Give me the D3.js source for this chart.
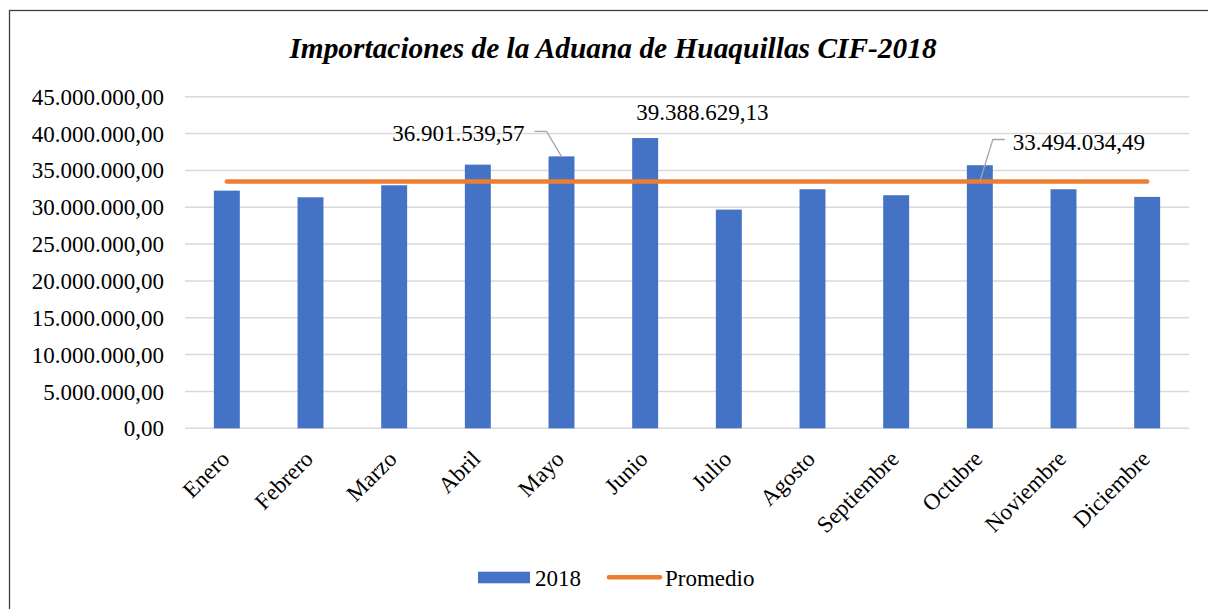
<!DOCTYPE html>
<html>
<head>
<meta charset="utf-8">
<script src="https://cdn.jsdelivr.net/npm/d3@7"></script>
<style>
  body { margin:0; background:#fff; }
  svg { display:block; font-family:"Liberation Serif","Times New Roman",serif; }
</style>
</head>
<body>
<div id="chart"></div>
<script>
// datos
var meses = ["Enero","Febrero","Marzo","Abril","Mayo","Junio","Julio","Agosto","Septiembre","Octubre","Noviembre","Diciembre"];
var valores2018 = [32250000,31350000,32980000,35780000,36901539.57,39388629.13,29680000,32440000,31630000,35700000,32440000,31400000];
var promedio = [33494034.49,33494034.49,33494034.49,33494034.49,33494034.49,33494034.49,33494034.49,33494034.49,33494034.49,33494034.49,33494034.49,33494034.49];
var yTicks = [0,5000000,10000000,15000000,20000000,25000000,30000000,35000000,40000000,45000000];
// etiquetas de datos: [serie, indice]
var etiquetas = [["2018",4],["2018",5],["Promedio",9]];

var width = 1208, height = 609;
var plotLeft = 185, plotRight = 1189, plotTop = 96.7, plotBottom = 428.3;
var serif = "'Liberation Serif','Times New Roman',serif";

var fmt = function(v){
    var s = v.toFixed(2).split(".");
    return s[0].replace(/\B(?=(\d{3})+(?!\d))/g,".") + "," + s[1];
};

var svg = d3.select("#chart").append("svg")
    .attr("width",width)
    .attr("height",height)
    .attr("font-family",serif);

// marco
svg.append("rect")
    .attr("x",9.5).attr("y",10.5)
    .attr("width",1230).attr("height",640)
    .attr("fill","#fff")
    .attr("stroke","#404040")
    .attr("stroke-width",1.3);

svg.append("text")
    .attr("x",613).attr("y",58)
    .attr("text-anchor","middle")
    .attr("font-size","29.4px")
    .attr("font-weight","bold")
    .attr("font-style","italic")
    .attr("fill","#000")
    .text("Importaciones de la Aduana de Huaquillas CIF-2018");

var x = d3.scaleBand().domain(meses).range([plotLeft,plotRight]).paddingInner(0.69).paddingOuter(0.345);
var xc = function(m){ return x(m) + x.bandwidth()/2; };
var y = d3.scaleLinear().domain([0,45000000]).range([plotBottom,plotTop]);

// lineas de cuadricula
svg.append("g").selectAll("line")
    .data(yTicks)
    .enter()
    .append("line")
    .attr("x1",plotLeft).attr("x2",plotRight)
    .attr("y1",function(d){return y(d);})
    .attr("y2",function(d){return y(d);})
    .attr("stroke","#d9d9d9")
    .attr("stroke-width",1.5);

var yAxis = svg.append("g")
    .attr("transform","translate("+(plotLeft-21)+",0)")
    .call(d3.axisLeft(y).tickValues(yTicks).tickSize(0).tickPadding(0).tickFormat(fmt));
yAxis.select(".domain").remove();
yAxis.attr("font-family",serif);
yAxis.selectAll("text")
    .attr("font-size","23px")
    .attr("fill","#000")
    .attr("dy","0.33em");

// barras
svg.append("g").selectAll("rect")
    .data(valores2018)
    .enter()
    .append("rect")
    .attr("x",function(d,i){return x(meses[i]);})
    .attr("y",function(d){return y(d);})
    .attr("width",x.bandwidth())
    .attr("height",function(d){return y(0)-y(d);})
    .attr("fill","#4472c4");

// promedio
var line = d3.line()
    .x(function(d,i){return xc(meses[i]);})
    .y(function(d){return y(d);});
svg.append("path")
    .datum(promedio)
    .attr("d",line)
    .attr("fill","none")
    .attr("stroke","#ed7d31")
    .attr("stroke-width",4.5)
    .attr("stroke-linecap","round");

// eje x
var xAxis = svg.append("g")
    .attr("transform","translate(0,"+plotBottom+")")
    .call(d3.axisBottom(x).tickSize(0).tickPadding(0));
xAxis.select(".domain").remove();
xAxis.attr("font-family",serif);
xAxis.selectAll("text")
    .attr("font-size","23px")
    .attr("fill","#000")
    .attr("text-anchor","end")
    .attr("dy",null)
    .attr("y",null)
    .attr("transform","translate(4,32) rotate(-45)");

// etiquetas de datos con lineas guia
var offsets = {
    "2018-4": {tx:-37, ty:-23, anchor:"end", guide:[[-27,-25],[-15,-25],[0,0]]},
    "2018-5": {tx:-9, ty:-26, anchor:"start", guide:null},
    "Promedio-9": {tx:33, ty:-40, anchor:"start", guide:[[25,-42],[13,-42],[0,0]]}
};
etiquetas.forEach(function(e){
    var i = e[1];
    var v = e[0] == "2018" ? valores2018[i] : promedio[i];
    var px = xc(meses[i]), py = y(v);
    var o = offsets[e[0]+"-"+i];
    if(o.guide){
        svg.append("polyline")
            .attr("points",o.guide.map(function(p){return (px+p[0])+","+(py+p[1]);}).join(" "))
            .attr("fill","none")
            .attr("stroke","#a6a6a6")
            .attr("stroke-width",1.3);
    }
    svg.append("text")
        .attr("x",px+o.tx).attr("y",py+o.ty)
        .attr("dy","0.35em")
        .attr("text-anchor",o.anchor)
        .attr("font-size","23px")
        .attr("fill","#000")
        .text(fmt(v));
});

// leyenda
var lg = svg.append("g");
lg.append("rect").attr("x",478).attr("y",571.7).attr("width",52).attr("height",11.6).attr("fill","#4472c4");
lg.append("text").attr("x",535).attr("y",577.5).attr("dy","0.35em").attr("font-size","23px").text("2018");
lg.append("line").attr("x1",609).attr("x2",660).attr("y1",577.3).attr("y2",577.3)
    .attr("stroke","#ed7d31").attr("stroke-width",4.5).attr("stroke-linecap","round");
lg.append("text").attr("x",665).attr("y",577.5).attr("dy","0.35em").attr("font-size","23px").text("Promedio");
</script>
</body>
</html>
